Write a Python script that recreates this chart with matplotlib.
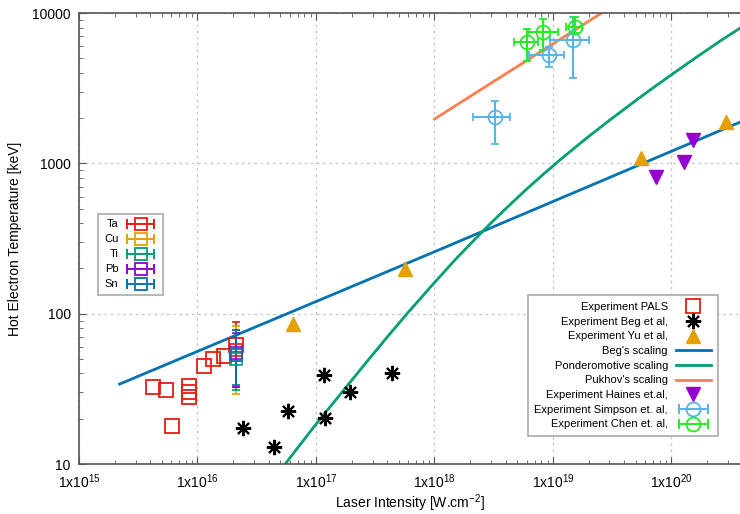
import numpy as np
import matplotlib
matplotlib.use("Agg")
import matplotlib.pyplot as plt
from matplotlib.lines import Line2D
from matplotlib.legend_handler import HandlerLine2D
from matplotlib.ticker import LogLocator, NullFormatter

plt.rcParams['font.family'] = ['Liberation Sans', 'DejaVu Sans']
plt.rcParams['mathtext.fontset'] = 'custom'
plt.rcParams['mathtext.rm'] = 'Liberation Sans'
plt.rcParams['mathtext.it'] = 'Liberation Sans:italic'

# Experiment PALS
pals_I = [4.2e15, 5.4e15, 6.1e15, 8.5e15, 8.5e15, 8.5e15, 1.13e16, 1.35e16, 1.68e16, 2.1e16]
pals_T = [32.5, 31, 18, 33, 30, 28, 45, 50, 52, 62]

# PALS materials (with error bars)
mat_names = ["Ta", "Cu", "Ti", "Pb", "Sn"]
mat_colors = ["#e51e10", "#e69f00", "#009e73", "#9400d3", "#0072b2"]
mat_I = [2.1e16, 2.1e16, 2.1e16, 2.1e16, 2.1e16]
mat_T = [57, 53, 50, 55, 53]
mat_lo = [32.5, 29, 31, 32.5, 33.5]
mat_hi = [88, 83, 78, 74, 78]

# Experiment Beg et al
beg_I = [2.42e16, 4.43e16, 5.8e16, 1.17e17, 1.19e17, 1.94e17, 4.4e17]
beg_T = [17.4, 13, 22.5, 39, 20.2, 30, 40]

# Experiment Yu et al
yu_I = [6.4e16, 5.6e17, 5.5e19, 2.9e20]
yu_T = [85, 198, 1080, 1885]

# Experiment Haines et al
haines_I = [7.4e19, 1.27e20, 1.52e20]
haines_T = [811, 1020, 1430]

# Experiment Simpson et al
simp_I = [3.24e18, 9.25e18, 1.48e19]
simp_T = [2037, 5260, 6620]
simp_I_lo = [2.1e18, 6.3e18, 9.4e18]
simp_I_hi = [4.3e18, 1.24e19, 2.0e19]
simp_T_lo = [1345, 4380, 3700]
simp_T_hi = [2600, 5940, 9420]

# Experiment Chen et al
chen_I = [6.0e18, 8.2e18, 1.53e19]
chen_T = [6430, 7480, 8090]
chen_I_lo = [4.7e18, 6.2e18, 1.3e19]
chen_I_hi = [7.5e18, 1.1e19, 1.77e19]
chen_T_lo = [4800, 5680, 7380]
chen_T_hi = [7830, 9140, 9420]

# scaling curves
begsc_I = [2.2e15, 1e18, 3.8e20]
begsc_T = [34, 258, 1880]
pond_I = [5.5e16, 1e17, 2.75e17, 4e17, 6e17, 1e18, 1.5e18, 2e18, 2.8e18, 4e18, 6e18, 8e18,
          1.1e19, 1.5e19, 2e19, 3e19, 5.2e19, 7e19, 1e20, 1.5e20, 2.5e20, 3.8e20]
pond_T = [10, 18.4, 49, 70, 102, 161, 229, 290, 380, 500, 674, 825,
          1025, 1255, 1507, 1934, 2678, 3177, 3885, 4860, 6410, 7940]
pukh_I = [1e18, 3e19]
pukh_T = [1970, 10800]

xtick_vals = [1e15, 1e16, 1e17, 1e18, 1e19, 1e20]
xtick_labels = ["1x10$^{15}$", "1x10$^{16}$", "1x10$^{17}$", "1x10$^{18}$", "1x10$^{19}$", "1x10$^{20}$"]
ytick_vals = [10, 100, 1000, 10000]
ytick_labels = ["10", "100", "1000", "10000"]

fig = plt.figure(figsize=(7.4, 5.14), dpi=100)
ax = fig.add_axes([79 / 740, 50 / 514, 661 / 740, 451 / 514])
ax.set_xscale("log")
ax.set_yscale("log")
ax.set_xlim(1e15, 3.79e20)
ax.set_ylim(10, 10000)

ax.grid(True, which="major", color="#c4c4c4", linestyle=(0, (2, 3)), linewidth=0.9)
ax.set_axisbelow(True)

# lines
l_beg, = ax.plot(begsc_I, begsc_T, color="#0072b2", lw=2, label="Beg's scaling")
l_pond, = ax.plot(pond_I, pond_T, color="#009e73", lw=2, label="Ponderomotive scaling")
l_pukh, = ax.plot(pukh_I, pukh_T, color="#ff7f50", lw=2, label="Pukhov's scaling")

# points
p_pals, = ax.plot(pals_I, pals_T, ls="none", marker="s", ms=10, mfc="none",
                  mec="#e51e10", mew=1.3, label="Experiment PALS")
for n, c, xi, t, lo, hi in zip(mat_names, mat_colors, mat_I, mat_T, mat_lo, mat_hi):
    ax.errorbar([xi], [t], yerr=[[t - lo], [hi - t]], fmt="s", ms=8, mfc="none",
                mec=c, color=c, mew=1.2, capsize=3, elinewidth=1.3)
p_beg, = ax.plot(beg_I, beg_T, ls="none", marker=(8, 2, 0), ms=11, mec="black",
                 mew=1.5, label="Experiment Beg et al,")
p_yu, = ax.plot(yu_I, yu_T, ls="none", marker="^", ms=10, color="#e69f00",
                label="Experiment Yu et al,")
p_haines, = ax.plot(haines_I, haines_T, ls="none", marker="v", ms=10, color="#9400d3",
                    label="Experiment Haines et.al,")

simp_xerr = [np.array(simp_I) - np.array(simp_I_lo), np.array(simp_I_hi) - np.array(simp_I)]
simp_yerr = [np.array(simp_T) - np.array(simp_T_lo), np.array(simp_T_hi) - np.array(simp_T)]
ax.errorbar(simp_I, simp_T, xerr=simp_xerr, yerr=simp_yerr, fmt="o", ms=10, mfc="none",
            mec="#56b4e9", color="#56b4e9", mew=1.3, capsize=3, elinewidth=1.5)
chen_xerr = [np.array(chen_I) - np.array(chen_I_lo), np.array(chen_I_hi) - np.array(chen_I)]
chen_yerr = [np.array(chen_T) - np.array(chen_T_lo), np.array(chen_T_hi) - np.array(chen_T)]
ax.errorbar(chen_I, chen_T, xerr=chen_xerr, yerr=chen_yerr, fmt="o", ms=10, mfc="none",
            mec="#22ee22", color="#22ee22", mew=1.3, capsize=3, elinewidth=1.5)

# legend handles: horizontal bar with caps and a marker in the middle (gnuplot look)
hmap = {}


def ebar_handle(color, marker, ms):
    caps = Line2D([], [], color=color, lw=1.4, marker="|", ms=7, mew=1.4)
    mk = Line2D([], [], ls="none", marker=marker, ms=ms, mfc="none", mec=color, mew=1.3)
    hmap[caps] = HandlerLine2D(numpoints=2)
    return (caps, mk)


h_simp = ebar_handle("#56b4e9", "o", 10)
h_chen = ebar_handle("#22ee22", "o", 10)
mat_handles = [ebar_handle(c, "s", 9) for c in mat_colors]

main_handles = [p_pals, p_beg, p_yu, l_beg, l_pond, l_pukh, p_haines, h_simp, h_chen]
main_labels = ["Experiment PALS", "Experiment Beg et al,", "Experiment Yu et al,",
               "Beg's scaling", "Ponderomotive scaling", "Pukhov's scaling",
               "Experiment Haines et.al,", "Experiment Simpson et. al,", "Experiment Chen et. al,"]

leg1 = ax.legend(main_handles, main_labels, handler_map=hmap,
                 loc="upper right", bbox_to_anchor=(0.975, 0.386), markerfirst=False,
                 fontsize=8, frameon=True, fancybox=False, edgecolor="#aaaaaa",
                 framealpha=1, handlelength=3.2, labelspacing=0.42, borderpad=0.6,
                 handletextpad=0.7)
leg1.get_frame().set_linewidth(1.2)
ax.add_artist(leg1)
leg2 = ax.legend(mat_handles, mat_names, handler_map=hmap, loc="upper left",
                 bbox_to_anchor=(0.021, 0.567),
                 markerfirst=False, fontsize=8, frameon=True, fancybox=False,
                 edgecolor="#aaaaaa", framealpha=1, handlelength=3, labelspacing=0.45,
                 borderpad=0.5, handletextpad=0.5)
leg2.get_frame().set_linewidth(1.2)

ax.set_xticks(xtick_vals)
ax.set_xticklabels(xtick_labels)
ax.set_yticks(ytick_vals)
ax.set_yticklabels(ytick_labels)
ax.xaxis.set_minor_locator(LogLocator(base=10, subs=np.arange(2, 10), numticks=30))
ax.yaxis.set_minor_locator(LogLocator(base=10, subs=np.arange(2, 10), numticks=30))
ax.xaxis.set_minor_formatter(NullFormatter())
ax.yaxis.set_minor_formatter(NullFormatter())
ax.tick_params(which="both", direction="in", top=True, right=False, color="#555555",
               labelsize=10)
ax.tick_params(axis="x", which="major", pad=6)
ax.tick_params(axis="y", which="major", pad=6)
ax.tick_params(which="major", length=5)
ax.tick_params(which="minor", length=3)
ax.spines["right"].set_visible(False)
for s in ["left", "bottom", "top"]:
    ax.spines[s].set_color("#555555")
    ax.spines[s].set_linewidth(1.2)

ax.set_xlabel("Laser Intensity [W.cm$^{-2}$]", fontsize=10, labelpad=1)
ax.set_ylabel("Hot Electron Temperature [keV]", fontsize=10, labelpad=7)

fig.savefig("out.png", dpi=100)
